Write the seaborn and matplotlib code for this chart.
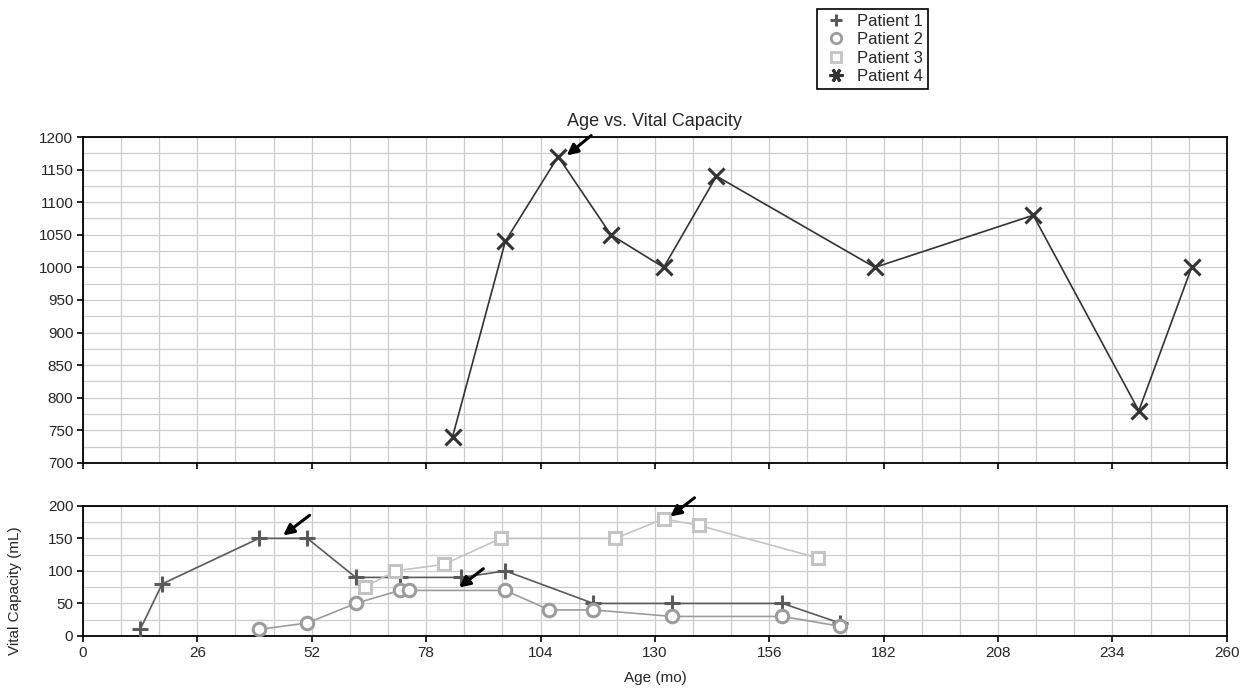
import matplotlib
matplotlib.use("Agg")
import matplotlib.pyplot as plt
import pandas as pd
import seaborn as sns
from matplotlib.lines import Line2D
from matplotlib.ticker import MultipleLocator

# data
p1_age = [13, 18, 40, 51, 62, 72, 86, 96, 116, 134, 159, 172]
p1_vc = [10, 80, 150, 150, 90, 90, 90, 100, 50, 50, 50, 20]
p2_age = [40, 51, 62, 72, 74, 96, 106, 116, 134, 159, 172]
p2_vc = [10, 20, 50, 70, 70, 70, 40, 40, 30, 30, 15]
p3_age = [64, 71, 82, 95, 121, 132, 140, 167]
p3_vc = [75, 100, 110, 150, 150, 180, 170, 120]
p4_age = [84, 96, 108, 120, 132, 144, 180, 216, 240, 252]
p4_vc = [740, 1040, 1170, 1050, 1000, 1140, 1000, 1080, 780, 1000]

patients = ["Patient 1", "Patient 2", "Patient 3", "Patient 4"]
colors = ["#5a5a5a", "#9c9c9c", "#c4c4c4", "#333333"]
markers = ["+", "o", "s", "x"]

sns.set_theme(style="white")
plt.rcParams["font.family"] = ["Liberation Sans", "DejaVu Sans"]

fig = plt.figure(figsize=(12.46, 6.92), dpi=100)
ax_top = fig.add_axes([0.0666, 0.331, 0.918, 0.471])
ax_bot = fig.add_axes([0.0666, 0.081, 0.918, 0.188])

frames = [
    pd.DataFrame({"age": p1_age, "vc": p1_vc}),
    pd.DataFrame({"age": p2_age, "vc": p2_vc}),
    pd.DataFrame({"age": p3_age, "vc": p3_vc}),
    pd.DataFrame({"age": p4_age, "vc": p4_vc}),
]
sizes = [11, 9, 9, 11]

for i, df in enumerate(frames):
    ax = ax_top if i == 3 else ax_bot
    open_mk = markers[i] in ("o", "s")
    sns.lineplot(data=df, x="age", y="vc", ax=ax, color=colors[i], lw=1.2,
                 marker=markers[i], markersize=sizes[i],
                 markerfacecolor="white" if open_mk else colors[i],
                 markeredgecolor=colors[i], markeredgewidth=2.2,
                 estimator=None, sort=False, legend=False, zorder=3)

for ax, lo, hi in [(ax_top, 700, 1200), (ax_bot, 0, 200)]:
    ax.set_xlim(0, 260)
    ax.set_ylim(lo, hi)
    ax.xaxis.set_major_locator(MultipleLocator(26))
    ax.xaxis.set_minor_locator(MultipleLocator(26 / 3))
    ax.yaxis.set_major_locator(MultipleLocator(50))
    ax.yaxis.set_minor_locator(MultipleLocator(25))
    ax.grid(True, which="both", color="#cccccc", lw=0.9, zorder=0)
    ax.set_axisbelow(True)
    ax.tick_params(which="major", direction="out", length=4, width=1.2,
                   color="black", labelsize=11, pad=3, left=True, bottom=True)
    ax.tick_params(which="minor", length=0)
    for s in ax.spines.values():
        s.set_color("black")
        s.set_linewidth(1.3)
    ax.set_xlabel("")
    ax.set_ylabel("")

ax_top.tick_params(labelbottom=False)
ax_bot.set_xlabel("Age (mo)", fontsize=11, labelpad=8)
ax_bot.set_ylabel("Vital Capacity (mL)", fontsize=11, labelpad=6)
ax_bot.yaxis.set_label_coords(-0.053, 0.35)
ax_top.set_title("Age vs. Vital Capacity", fontsize=13, pad=8)

arrow = dict(arrowstyle="-|>", color="black", lw=2.2, mutation_scale=16)
ax_top.annotate("", xy=(109.5, 1169), xytext=(116, 1205),
                arrowprops=arrow, annotation_clip=False)
ax_bot.annotate("", xy=(45, 152), xytext=(52, 188),
                arrowprops=arrow, annotation_clip=False)
ax_bot.annotate("", xy=(85, 72), xytext=(91.5, 106),
                arrowprops=arrow, annotation_clip=False)
ax_bot.annotate("", xy=(133, 181), xytext=(139.5, 215),
                arrowprops=arrow, annotation_clip=False)

handles = [
    Line2D([], [], ls="none", marker="+", color=colors[0], markersize=9, markeredgewidth=2.2),
    Line2D([], [], ls="none", marker="o", color=colors[1], markerfacecolor="white",
           markersize=7.5, markeredgewidth=2),
    Line2D([], [], ls="none", marker="s", color=colors[2], markerfacecolor="white",
           markersize=7.5, markeredgewidth=2),
    Line2D([], [], ls="none", marker=(6, 2, 90), color=colors[3], markersize=10, markeredgewidth=2.2),
]
leg = fig.legend(handles, patients, loc="upper left", bbox_to_anchor=(0.656, 0.987),
                 fontsize=12, frameon=True, fancybox=False, framealpha=1,
                 handlelength=1.6, handletextpad=0.5, borderpad=0.3,
                 labelspacing=0.2, borderaxespad=0)
leg.get_frame().set_edgecolor("black")
leg.get_frame().set_linewidth(1.2)

fig.savefig("out.png", dpi=100)
